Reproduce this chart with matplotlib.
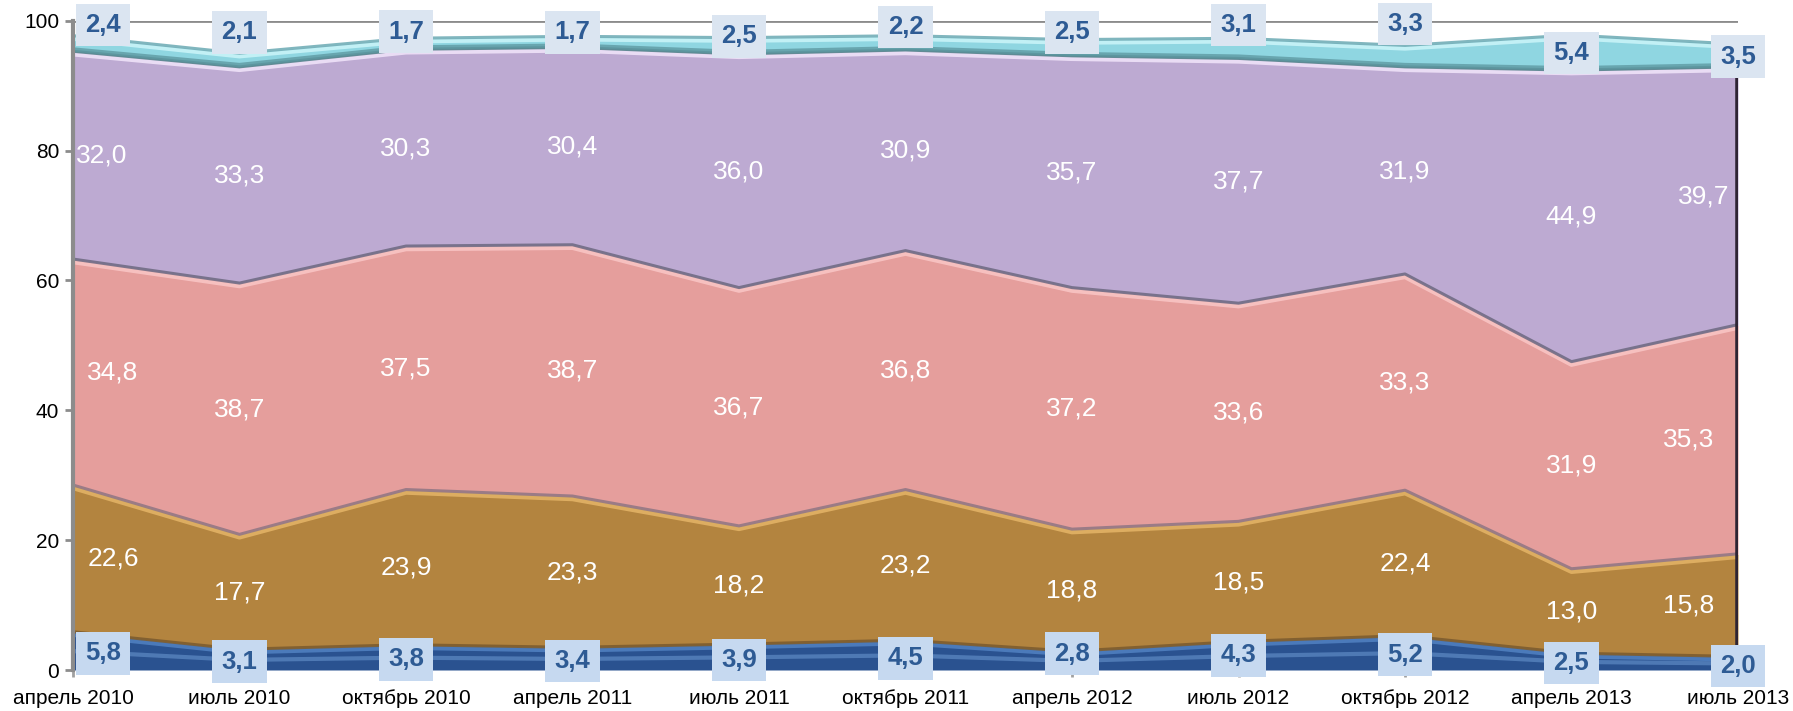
import numpy as np
import matplotlib
matplotlib.use("Agg")
import matplotlib.pyplot as plt

# ---------------- data ----------------
categories = ["апрель 2010", "июль 2010", "октябрь 2010", "апрель 2011", "июль 2011",
              "октябрь 2011", "апрель 2012", "июль 2012", "октябрь 2012", "апрель 2013", "июль 2013"]
blue   = [5.8, 3.1, 3.8, 3.4, 3.9, 4.5, 2.8, 4.3, 5.2, 2.5, 2.0]
brown  = [22.6, 17.7, 23.9, 23.3, 18.2, 23.2, 18.8, 18.5, 22.4, 13.0, 15.8]
pink   = [34.8, 38.7, 37.5, 38.7, 36.7, 36.8, 37.2, 33.6, 33.3, 31.9, 35.3]
purple = [32.0, 33.3, 30.3, 30.4, 36.0, 30.9, 35.7, 37.7, 31.9, 44.9, 39.7]
cyan   = [2.4, 2.1, 1.7, 1.7, 2.5, 2.2, 2.5, 3.1, 3.3, 5.4, 3.5]
yticks = [0, 20, 40, 60, 80, 100]

# ---------------- layout (label placement, not data) ----------------
cyan_label_y = [99.3, 98.2, 98.3, 98.2, 97.6, 99.0, 98.2, 99.3, 99.5, 95.0, 94.45]
blue_label_y = [2.57, 1.28, 1.62, 1.42, 1.57, 1.80, 2.51, 2.24, 2.36, 1.05, 0.65]

plt.rcParams['font.family'] = ['Liberation Sans', 'DejaVu Sans']

W, H = 1793, 711
fig = plt.figure(figsize=(W / 100, H / 100), dpi=100)
ax = fig.add_axes([73 / W, 41 / H, (1738 - 73) / W, (670 - 20.7) / H])

n = len(categories)
x = np.arange(n)
layers = [np.array(v, dtype=float) for v in (blue, brown, pink, purple, cyan)]
fills = ['#2a5290', '#b3843f', '#e59e9c', '#bdaad2', '#8fd6e1']
highlights = ['#4f7fbf', '#e2b265', '#f9c4c4', '#efe2f8', '#c8f3f8']
shadows = ['#1d3560', '#7a5a2e', '#8e7583', '#6c6880', '#4f7d86']

cum = np.zeros(n)
bounds = []
for vals, col in zip(layers, fills):
    top = cum + vals
    ax.fill_between(x, cum, top, color=col, lw=0, zorder=2)
    bounds.append((cum.copy(), top.copy()))
    cum = top

px = 1 / 6.493  # one pixel in data units (vertical)
for k, (lo, hi) in enumerate(bounds):
    ax.plot(x, hi - 2.4 * px, color=highlights[k], lw=3.2, alpha=0.9, zorder=3)
    ax.plot(x, hi + 0.6 * px, color=shadows[min(k + 1, 4)] if k < 4 else '#6aa9b3',
            lw=2.2, alpha=0.85, zorder=3)
b_lo, b_hi = bounds[0]
ax.plot(x, b_hi * 0.5, color='#6d9ad3', lw=3, alpha=0.55, zorder=3)
c_lo, c_hi = bounds[4]
ax.plot(x, c_lo + 2.5 * px, color='#5f9aa3', lw=3, alpha=0.8, zorder=3)

ax.plot([x[-1], x[-1]], [0, bounds[3][1][-1]], color='#2e2433', lw=4, zorder=4,
        solid_capstyle='butt')

ax.axhline(100, color='#8c8c8c', lw=2, zorder=1)

ax.set_xlim(0, n - 1)
ax.set_ylim(0, 100)
ax.set_yticks(yticks)
ax.set_yticklabels([str(t) for t in yticks], fontsize=15)
ax.set_xticks(x)
ax.set_xticklabels(categories, fontsize=15)
for s in ['top', 'right', 'bottom']:
    ax.spines[s].set_visible(False)
ax.spines['left'].set_color('#8c8c8c')
ax.spines['left'].set_linewidth(3)
ax.spines['left'].set_zorder(5)
ax.tick_params(axis='y', length=6, width=2, color='#8c8c8c', pad=4)
ax.tick_params(axis='x', length=5, width=2, color='#a0a0a0', pad=9)

def fmt(v):
    return f"{v:.1f}".replace('.', ',')

for k in (1, 2, 3):
    lo, hi = bounds[k]
    vals = layers[k]
    for i in range(n):
        yc = (lo[i] + hi[i]) / 2
        if i == 0:
            xi, ha = (0.015 if k == 3 else 0.085), 'left'
        elif i == n - 1:
            xi, ha = n - 1 - (0.05 if k == 3 else 0.14), 'right'
        else:
            xi, ha = x[i], 'center'
        ax.text(xi, yc, fmt(vals[i]), color='white', fontsize=19,
                ha=ha, va='center', zorder=6)

txtcol = '#2e5b94'
for i in range(n):
    xi = x[i] + (0.18 if i == 0 else 0)
    ax.text(xi, cyan_label_y[i], fmt(cyan[i]), color=txtcol, fontsize=18.5,
            fontweight='bold', ha='center', va='center', zorder=7, clip_on=False,
            bbox=dict(boxstyle='square,pad=0.36', fc='#dbe5f1', ec='none'))
    ax.text(xi, blue_label_y[i], fmt(blue[i]), color=txtcol, fontsize=18.5,
            fontweight='bold', ha='center', va='center', zorder=7, clip_on=False,
            bbox=dict(boxstyle='square,pad=0.36', fc='#c6d9f0', ec='none'))

fig.savefig('out.png', dpi=100)
